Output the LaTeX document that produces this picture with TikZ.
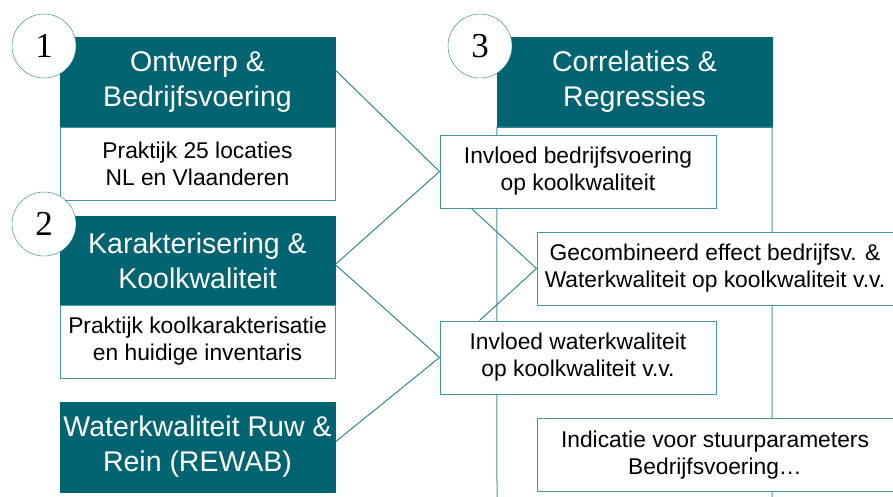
\documentclass[tikz,border=0pt]{standalone}
\usepackage{fontspec}
\setmainfont{Liberation Sans}
\newfontfamily\numfont{Liberation Serif}
\definecolor{wtteal}{RGB}{2,100,112}
\definecolor{wtedge}{RGB}{72,150,160}
\definecolor{wtlink}{RGB}{35,125,138}

\begin{document}
\begin{tikzpicture}[x=1pt,y=-1pt,
    hnode/.style={fill=wtteal, draw=wtteal, text=white, minimum width=275pt, minimum height=90pt, inner sep=1pt, align=center, font=\fontsize{28.5}{35}\selectfont},
    bnode/.style={fill=white, draw=wtedge, line width=1pt, minimum width=275pt, minimum height=73pt, inner sep=1pt, align=center, font=\fontsize{22.8}{27}\selectfont},
    rnode/.style={bnode, minimum width=356pt},
    nnode/.style={fill=white, draw=wtlink, circle, minimum size=64pt, inner sep=0pt, font=\numfont\fontsize{35}{35}\selectfont},
    link/.style={draw=wtlink, line width=0.9pt}]
    \useasboundingbox (0,0) rectangle (893,496);

    \node[hnode] (h1) at (197.5, 82) {Ontwerp \&\\Bedrijfsvoering};
    \node[bnode] (b1) at (197.5, 163.5) {Praktijk 25 locaties\\ NL en Vlaanderen};
    \node[hnode, minimum height=89pt] (h2) at (197.5, 260.5) {Karakterisering \&\\Koolkwaliteit};
    \node[bnode] (b2) at (197.5, 341.5) {Praktijk koolkarakterisatie\\en huidige inventaris};
    \node[hnode] (h3) at (197.5, 447) {Waterkwaliteit Ruw \&\\Rein (REWAB)};

    \node[hnode] (h4) at (634.5, 82) {Correlaties \&\\Regressies};
    \coordinate (c4l) at (497, 497);
    \coordinate (c4r) at (772, 497);
    \draw[draw=wtedge, line width=1pt] (c4l) -- (h4.south west) -- (h4.south east) -- (c4r);

    \node[bnode, minimum width=276pt] (ra) at (578, 171.5) {Invloed bedrijfsvoering\\op koolkwaliteit};
    \node[rnode] (rb) at (715, 268.5) {Gecombineerd effect bedrijfsv. \&\\Waterkwaliteit op koolkwaliteit v.v.};
    \node[bnode, minimum width=276pt] (rc) at (578, 357.5) {Invloed waterkwaliteit\\op koolkwaliteit v.v.};
    \node[rnode] (rd) at (715, 455) {Indicatie voor stuurparameters\\Bedrijfsvoering\dots};

    \node[nnode] (n1) at (44, 46) {1};
    \node[nnode] (n2) at (44, 224) {2};
    \node[nnode] (n3) at (480, 46) {3};

    \coordinate (ra0) at ([xshift=32pt]ra.south west);
    \coordinate (rc0) at ([xshift=40pt]rc.north west);

    \draw[link] ([yshift=12pt]h1.east) -- (ra.west);
    \draw[link] ([yshift=-4pt]h2.east) -- (ra.west);
    \draw[link] ([yshift=-4pt]h2.east) -- (rc.west);
    \draw[link] ([yshift=5pt]h3.east) -- (rc.west);
    \draw[link] (ra0) -- (rb.west);
    \draw[link] (rc0) -- (rb.west);
\end{tikzpicture}
\end{document}
